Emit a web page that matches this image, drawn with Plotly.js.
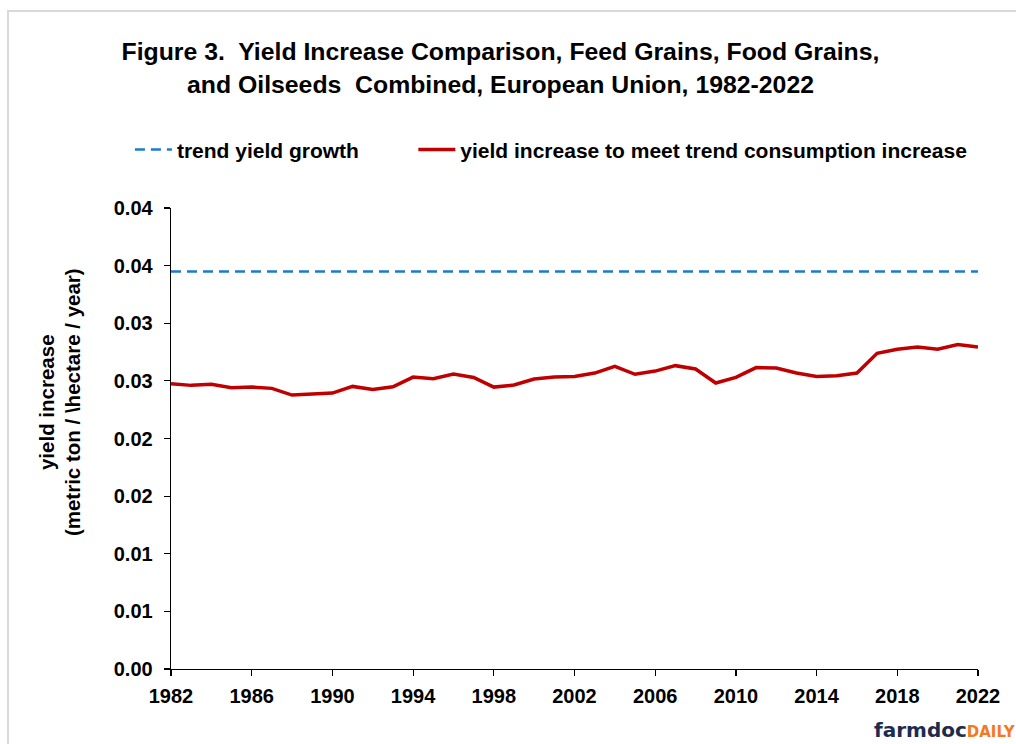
<!DOCTYPE html>
<html>
<head>
<meta charset="utf-8">
<script src="https://cdn.plot.ly/plotly-3.0.1.min.js"></script>
<style>
  html, body { margin: 0; padding: 0; background: #ffffff; }
  #wrap { position: relative; width: 1016px; height: 744px; overflow: hidden; }
  #chart { position: absolute; left: 0; top: 0; width: 1016px; height: 744px; }
  #frame { position: absolute; left: 7px; top: 10px; width: 1020px; height: 760px;
           border: 2px solid #d9d9d9; pointer-events: none; box-sizing: border-box; }
</style>
</head>
<body>
<div id="wrap">
  <div id="chart"></div>
  <div id="frame"></div>
</div>
<script>
// ---- data ----
const years = [1982, 1983, 1984, 1985, 1986, 1987, 1988, 1989, 1990, 1991,
               1992, 1993, 1994, 1995, 1996, 1997, 1998, 1999, 2000, 2001,
               2002, 2003, 2004, 2005, 2006, 2007, 2008, 2009, 2010, 2011,
               2012, 2013, 2014, 2015, 2016, 2017, 2018, 2019, 2020, 2021,
               2022];

const trendYieldGrowth = [0.0345, 0.0345, 0.0345, 0.0345, 0.0345, 0.0345, 0.0345, 0.0345, 0.0345, 0.0345,
                          0.0345, 0.0345, 0.0345, 0.0345, 0.0345, 0.0345, 0.0345, 0.0345, 0.0345, 0.0345,
                          0.0345, 0.0345, 0.0345, 0.0345, 0.0345, 0.0345, 0.0345, 0.0345, 0.0345, 0.0345,
                          0.0345, 0.0345, 0.0345, 0.0345, 0.0345, 0.0345, 0.0345, 0.0345, 0.0345, 0.0345,
                          0.0345];

const yieldIncreaseNeeded = [0.02476, 0.02461, 0.02470, 0.02441, 0.02446, 0.02435, 0.02377, 0.02389, 0.02394, 0.02452,
                             0.02426, 0.02449, 0.02533, 0.02519, 0.02559, 0.02530, 0.02446, 0.02464, 0.02516, 0.02533,
                             0.02539, 0.02568, 0.02626, 0.02557, 0.02585, 0.02632, 0.02603, 0.02481, 0.02530, 0.02615,
                             0.02612, 0.02568, 0.02539, 0.02545, 0.02568, 0.02739, 0.02774, 0.02794, 0.02774, 0.02815,
                             0.02794];

const xTickVals = [1982, 1986, 1990, 1994, 1998, 2002, 2006, 2010, 2014, 2018, 2022];
const yTickVals = [0, 0.005, 0.01, 0.015, 0.02, 0.025, 0.03, 0.035, 0.04];
const yTickText = ['0.00', '0.01', '0.01', '0.02', '0.02', '0.03', '0.03', '0.04', '0.04'];

const seriesNames = ['trend yield growth', 'yield increase to meet trend consumption increase'];
const titleText = 'Figure 3.  Yield Increase Comparison, Feed Grains, Food Grains,<br>and Oilseeds  Combined, European Union, 1982-2022';
const yTitleText = 'yield increase<br>(metric ton / \\hectare / year)';

// ---- chart ----
const FONT = 'Liberation Sans, Arial, sans-serif';

const traces = [
  {
    x: years, y: trendYieldGrowth, type: 'scatter', mode: 'lines',
    name: seriesNames[0], legend: 'legend',
    line: { color: '#1a7bd1', width: 2.5, dash: '10px,6px' },
    hoverinfo: 'skip'
  },
  {
    x: years, y: yieldIncreaseNeeded, type: 'scatter', mode: 'lines',
    name: seriesNames[1], legend: 'legend2',
    line: { color: '#c00000', width: 3.5 },
    hoverinfo: 'skip'
  }
];

const legendFont = { family: FONT, size: 21, color: '#000000', weight: 'bold' };

const layout = {
  width: 1016, height: 744,
  margin: { l: 171, r: 38, t: 208, b: 75 },
  paper_bgcolor: 'rgba(0,0,0,0)',
  plot_bgcolor: 'rgba(0,0,0,0)',
  showlegend: true,
  title: {
    text: titleText,
    font: { family: FONT, size: 24.8, color: '#000000', weight: 'bold' },
    x: 0.4926, xanchor: 'center', xref: 'container',
    y: 0.919, yanchor: 'middle', yref: 'container'
  },
  xaxis: {
    range: [1982, 2022],
    tickmode: 'array', tickvals: xTickVals,
    ticks: 'outside', ticklen: 6, tickwidth: 1.2, tickcolor: '#000000',
    showline: true, linecolor: '#000000', linewidth: 1.3,
    showgrid: false, zeroline: false,
    tickfont: { family: FONT, size: 20, color: '#000000', weight: 'bold' },
    ticklabelstandoff: 3
  },
  yaxis: {
    range: [0, 0.04],
    tickmode: 'array', tickvals: yTickVals, ticktext: yTickText,
    ticks: 'outside', ticklen: 6, tickwidth: 1.2, tickcolor: '#000000',
    showline: true, linecolor: '#000000', linewidth: 1.3,
    showgrid: false, zeroline: false,
    tickfont: { family: FONT, size: 20, color: '#000000', weight: 'bold' },
    ticklabelstandoff: 7
  },
  xaxis2: {
    overlaying: 'x', anchor: 'y', side: 'bottom',
    range: [1982, 2022],
    tickmode: 'array', tickvals: xTickVals,
    ticks: 'inside', ticklen: 6, tickwidth: 1.2, tickcolor: '#000000',
    showticklabels: false, showline: false, showgrid: false, zeroline: false
  },
  yaxis2: {
    overlaying: 'y', anchor: 'x', side: 'left',
    range: [0, 0.04],
    tickmode: 'array', tickvals: yTickVals,
    ticks: 'inside', ticklen: 6, tickwidth: 1.2, tickcolor: '#000000',
    showticklabels: false, showline: false, showgrid: false, zeroline: false
  },
  legend: {
    x: -0.0509, xanchor: 'left', y: 1.126, yanchor: 'middle',
    orientation: 'h', bgcolor: 'rgba(0,0,0,0)', borderwidth: 0,
    itemwidth: 37,
    font: legendFont
  },
  legend2: {
    x: 0.3003, xanchor: 'left', y: 1.126, yanchor: 'middle',
    orientation: 'h', bgcolor: 'rgba(0,0,0,0)', borderwidth: 0,
    itemwidth: 37,
    font: legendFont
  },
  annotations: [
    {
      text: yTitleText, textangle: -90, showarrow: false,
      xref: 'paper', yref: 'paper', x: -0.1382, y: 0.58,
      xanchor: 'center', yanchor: 'middle',
      font: { family: FONT, size: 20.5, color: '#000000', weight: 'bold' }
    },
    {
      text: '<span style="color:#1d2b4f">farmdoc</span><span style="color:#f47920;font-size:15px">DAILY</span>',
      showarrow: false, xref: 'paper', yref: 'paper',
      x: 0.8685, y: -0.132, xanchor: 'left', yanchor: 'middle',
      font: { family: 'DejaVu Sans, Liberation Sans, sans-serif', size: 20, color: '#1d2b4f', weight: 'bold' }
    }
  ]
};

Plotly.newPlot('chart', traces, layout, { displayModeBar: false, staticPlot: true });
</script>
</body>
</html>
